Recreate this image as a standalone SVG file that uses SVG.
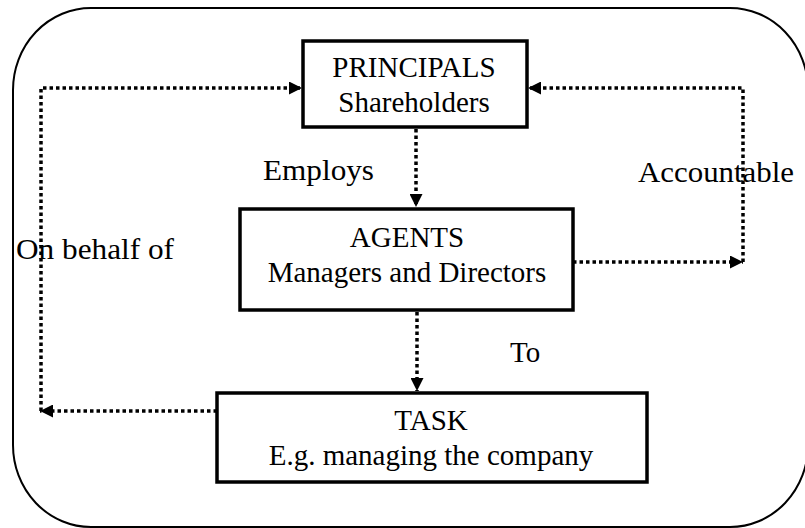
<svg xmlns="http://www.w3.org/2000/svg" width="805" height="528" viewBox="0 0 805 528">
<style>
.frame{fill:none;stroke:#000;stroke-width:2}
.box{fill:#fff;stroke:#000;stroke-width:3.5}
.t{font-family:"Liberation Serif","Times New Roman",serif;font-size:29px;fill:#000}
.c{text-anchor:middle}
.dot{fill:none;stroke:#000;stroke-width:3.5;stroke-dasharray:3.5 3}
</style>
<defs>
<marker id="ah" viewBox="0 0 10 10" refX="10" refY="5" markerWidth="13" markerHeight="13" markerUnits="userSpaceOnUse" orient="auto">
<path d="M0,0 L10,5 L0,10 z" fill="#000"/>
</marker>
</defs>
<rect class="frame" x="13" y="8" width="795" height="519" rx="78" ry="82"/>
<g id="connectors">
<path class="dot" d="M217,411 H40" marker-end="url(#ah)"/>
<path class="dot" d="M41,411 V88 H302" marker-end="url(#ah)"/>
<path class="dot" d="M573,262 H743" marker-end="url(#ah)"/>
<path class="dot" d="M743,262 V88 H528" marker-end="url(#ah)"/>
<path class="dot" d="M416,129 V207" marker-end="url(#ah)"/>
<path class="dot" d="M417,312 V391" marker-end="url(#ah)"/>
</g>
<g id="principals">
<rect class="box" x="303" y="41" width="224" height="86"/>
<text class="t c" x="414" y="77">PRINCIPALS</text>
<text class="t c" x="414" y="112">Shareholders</text>
</g>
<g id="agents">
<rect class="box" x="240" y="209" width="333" height="101"/>
<text class="t c" x="407" y="247">AGENTS</text>
<text class="t c" x="407" y="282">Managers and Directors</text>
</g>
<g id="task">
<rect class="box" x="217" y="393" width="430" height="89"/>
<text class="t c" x="431" y="430">TASK</text>
<text class="t c" x="431" y="465">E.g. managing the company</text>
</g>
<g id="labels">
<text class="t" x="263" y="180" textLength="111" lengthAdjust="spacingAndGlyphs">Employs</text>
<text class="t" x="638" y="182" textLength="156" lengthAdjust="spacingAndGlyphs">Accountable</text>
<text class="t" x="16" y="259" textLength="158" lengthAdjust="spacingAndGlyphs">On behalf of</text>
<text class="t" x="510" y="362">To</text>
</g>
</svg>
